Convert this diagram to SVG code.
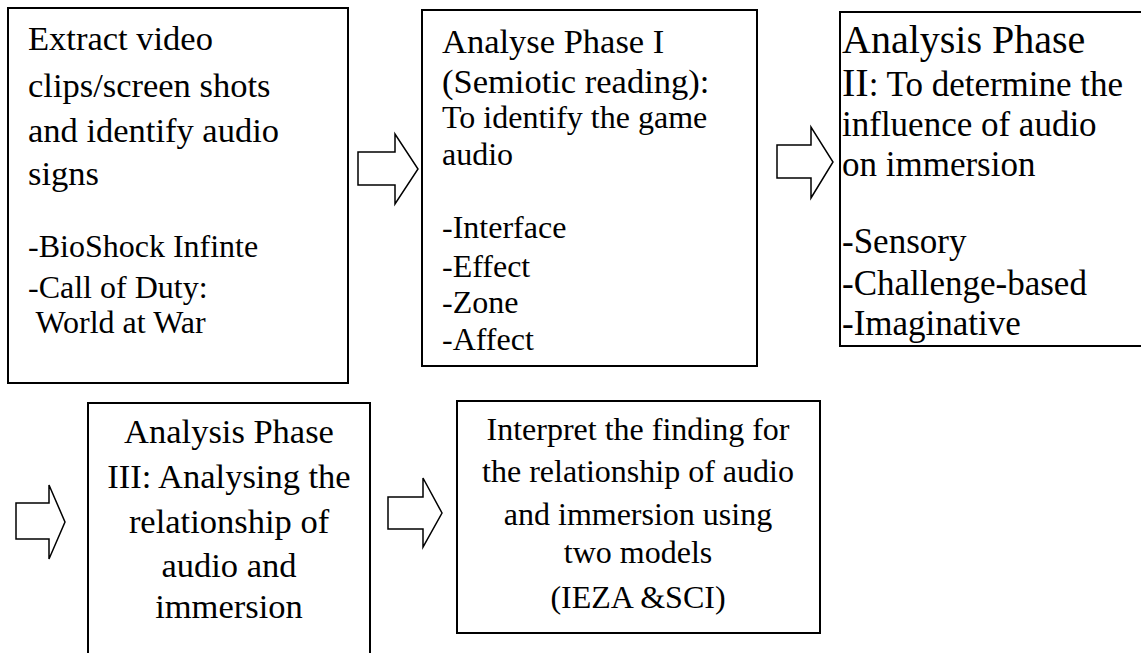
<svg xmlns="http://www.w3.org/2000/svg" width="1141" height="653" viewBox="0 0 1141 653">
<style>
.box{fill:#fff;stroke:#000;stroke-width:2}
.arr{fill:#fff;stroke:#000;stroke-width:1.5;stroke-linejoin:miter}
text{fill:#000}
.t{font-size:34.5px}
.b{font-size:32px}
.big{font-size:40px}
.m{font-size:35px}
.c{text-anchor:middle}
</style>
<rect width="1141" height="653" fill="#fff"/>
<g id="connectors">
<polygon class="arr" points="358,152 395,152 395,134 418,169 395,204 395,185 358,185"/>
<polygon class="arr" points="777,145 811,145 811,127 833,162 811,198 811,178 777,178"/>
<polygon class="arr" points="16,503 49,503 49,485 65,522 49,559 49,539 16,539"/>
<polygon class="arr" points="388,497 423,497 423,478 442,513 423,547 423,529 388,529"/>
</g>
<g font-family="Liberation Serif, DejaVu Serif, serif">
<g id="node1">
<rect class="box" x="8" y="8" width="340" height="375"/>
<text class="t" x="28" y="50">Extract video</text>
<text class="t" x="28" y="97">clips/screen shots</text>
<text class="t" x="28" y="142">and identify audio</text>
<text class="t" x="28" y="185">signs</text>
<text class="b" x="28" y="257">-BioShock Infinte</text>
<text class="b" x="28" y="298">-Call of Duty:</text>
<text class="b" x="28" y="333" xml:space="preserve"> World at War</text>
</g>
<g id="node2">
<rect class="box" x="422" y="10" width="335" height="356"/>
<text class="t" x="442" y="53">Analyse Phase I</text>
<text class="t" x="442" y="93">(Semiotic reading):</text>
<text class="b" x="442" y="128">To identify the game</text>
<text class="b" x="442" y="165">audio</text>
<text class="b" x="442" y="238">-Interface</text>
<text class="b" x="442" y="277">-Effect</text>
<text class="b" x="442" y="313">-Zone</text>
<text class="b" x="442" y="350">-Affect</text>
</g>
<g id="node3">
<rect class="box" x="840" y="12" width="305" height="334"/>
<text class="big" x="842" y="53">Analysis Phase</text>
<text class="m" x="842" y="96"><tspan class="big">II</tspan>: To determine the</text>
<text class="m" x="842" y="136">influence of audio</text>
<text class="m" x="842" y="176">on immersion</text>
<text class="m" x="842" y="253">-Sensory</text>
<text class="m" x="842" y="295">-Challenge-based</text>
<text class="m" x="842" y="335">-Imaginative</text>
</g>
<g id="node4">
<rect class="box" x="88" y="403" width="282" height="265"/>
<text class="t c" x="229" y="443">Analysis Phase</text>
<text class="t c" x="229" y="488">III: Analysing the</text>
<text class="t c" x="229" y="533">relationship of</text>
<text class="t c" x="229" y="577">audio and</text>
<text class="t c" x="229" y="618">immersion</text>
</g>
<g id="node5">
<rect class="box" x="457" y="401" width="363" height="232"/>
<text class="b c" x="638" y="440">Interpret the finding for</text>
<text class="b c" x="638" y="482">the relationship of audio</text>
<text class="b c" x="638" y="525">and immersion using</text>
<text class="b c" x="638" y="563">two models</text>
<text class="b c" x="638" y="608">(IEZA &amp;SCI)</text>
</g>
</g>
</svg>
